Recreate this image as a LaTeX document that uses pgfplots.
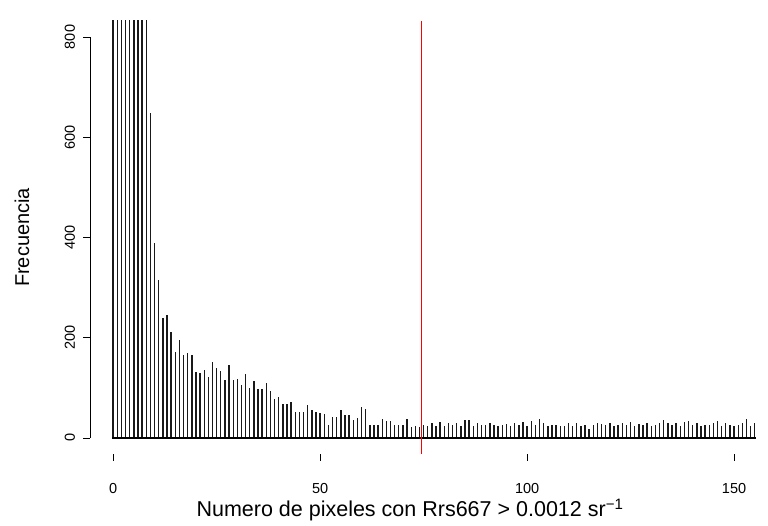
\documentclass[border=0pt]{standalone}
\usepackage{pgfplots}
\pgfplotsset{compat=1.18}
\usepackage{fontspec}
\setmainfont{Liberation Sans}
\begin{document}
\begin{tikzpicture}
\useasboundingbox (-90pt,-72pt) rectangle (678pt,454pt);
\begin{axis}[
  at={(0pt,0pt)}, anchor=south west,
  scale only axis, width=678pt, height=433pt,
  xmin=-5.6, xmax=158.2, ymin=-32, ymax=832,
  axis x line*=bottom, axis y line*=left,
  axis line style={draw=none},
  xtick={0,50,100,150}, ytick={0,200,400,600,800},
  tick align=outside, major tick length=7pt,
  tick style={black, line width=0.6pt},
  /pgf/number format/assume math mode=true,
  ticklabel style={font=\fontsize{14.5}{16}\selectfont},
  xticklabel style={anchor=center, yshift=-28pt},
  yticklabel style={anchor=center, xshift=-13pt, rotate=90},
  every axis x label/.style={at={(axis description cs:0.472,-0.129)}, anchor=center, font=\fontsize{21.5}{24}\selectfont},
  every axis y label/.style={at={(axis description cs:-0.1003,0.5)}, rotate=90, anchor=center, font=\fontsize{20}{24}\selectfont},
  xlabel={Numero de pixeles con Rrs667 > 0.0012 sr\textsuperscript{−1}},
  ylabel={Frecuencia},
  clip=true,
]
\addplot[ycomb, black!90, line width=1.4pt, mark=none] coordinates {
(0,3000)(1,2200)(2,1800)(3,1500)(4,1300)(5,1100)(6,1000)(7,950)(8,880)
(9,648)(10,390)(11,315)(12,240)(13,245)(14,212)(15,172)(16,196)(17,166)(18,169)(19,166)
(20,132)(21,130)(22,136)(23,122)(24,152)(25,139)(26,134)(27,116)(28,146)(29,116)
(30,117)(31,105)(32,128)(33,100)(34,114)(35,98)(36,98)(37,109)(38,94)(39,78)
(40,82)(41,68)(42,68)(43,72)(44,52)(45,52)(46,52)(47,66)(48,56)(49,52)
(50,50)(51,48)(52,26)(53,42)(54,42)(55,56)(56,46)(57,46)(58,36)(59,40)
(60,62)(61,58)(62,26)(63,26)(64,26)(65,38)(66,34)(67,34)(68,26)(69,26)
(70,26)(71,38)(72,22)(73,24)(74,22)(75,26)(76,23)(77,29)(78,23)(79,31)
(80,23)(81,29)(82,26)(83,29)(84,23)(85,35)(86,35)(87,23)(88,29)(89,26)
(90,26)(91,29)(92,26)(93,23)(94,26)(95,28)(96,23)(97,29)(98,26)(99,31)
(100,23)(101,33)(102,26)(103,37)(104,29)(105,23)(106,26)(107,26)(108,23)(109,24)
(110,29)(111,23)(112,29)(113,23)(114,26)(115,18)(116,25)(117,29)(118,27)(119,26)
(120,29)(121,23)(122,26)(123,29)(124,26)(125,31)(126,23)(127,28)(128,25)(129,29)
(130,23)(131,26)(132,29)(133,35)(134,29)(135,25)(136,29)(137,23)(138,31)(139,33)
(140,26)(141,29)(142,23)(143,26)(144,25)(145,29)(146,34)(147,23)(148,29)(149,26)
(150,23)(151,25)(152,29)(153,37)(154,23)(155,29)
};
\addplot[black, line width=1.2pt, mark=none] coordinates {(-0.3,0) (155.3,0)};
\addplot[red, line width=1pt, mark=none] coordinates {(74.5,-32) (74.5,832)};
\draw[black, line width=0.6pt] (axis cs:0,-32) -- (axis cs:150,-32);
\draw[black, line width=0.6pt] (axis cs:-5.6,0) -- (axis cs:-5.6,800);
\end{axis}
\end{tikzpicture}
\end{document}
